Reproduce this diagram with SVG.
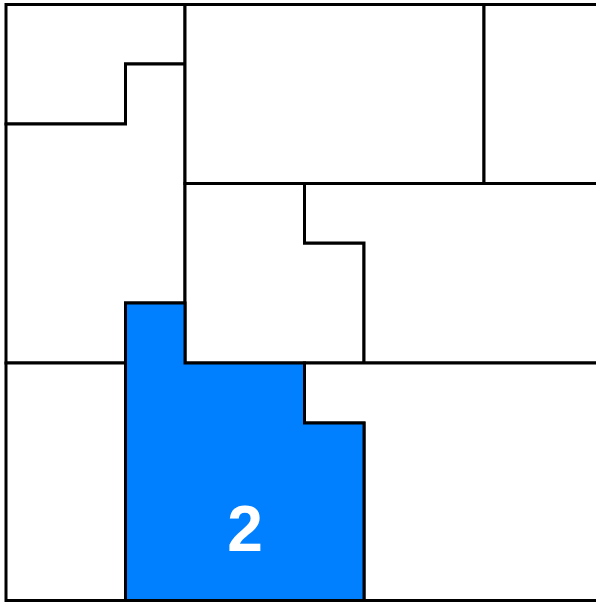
<svg xmlns="http://www.w3.org/2000/svg" width="596" height="602" viewBox="0 0 596 602">
<style>
.r{fill:#ffffff;stroke:#000000;stroke-width:3;stroke-linejoin:miter}
.hl{fill:#0080ff;stroke:#000000;stroke-width:3}
.lbl{font-family:"Liberation Sans",Arial,sans-serif;font-weight:bold;font-size:64px;fill:#ffffff;text-anchor:middle}
</style>
<rect width="596" height="602" fill="#ffffff"/>
<g id="region-a"><polygon class="r" points="6,4.5 185,4.5 185,64 125.5,64 125.5,124 6,124"/></g>
<g id="region-b"><polygon class="r" points="6,124 125.5,124 125.5,64 185,64 185,303 125.5,303 125.5,363 6,363"/></g>
<g id="region-c"><polygon class="r" points="185,4.5 484,4.5 484,183.5 185,183.5"/></g>
<g id="region-d"><polygon class="r" points="484,4.5 599,4.5 599,183.5 484,183.5"/></g>
<g id="region-e"><polygon class="r" points="185,183.5 304.5,183.5 304.5,243 364,243 364,363 185,363"/></g>
<g id="region-f"><polygon class="r" points="304.5,183.5 599,183.5 599,363 364,363 364,243 304.5,243"/></g>
<g id="region-g"><polygon class="r" points="6,363 125.5,363 125.5,600.5 6,600.5"/></g>
<g id="region-h"><polygon class="r" points="304.5,363 599,363 599,600.5 364,600.5 364,423 304.5,423"/></g>
<g id="region-2"><polygon class="hl" points="125.5,303 185,303 185,363 304.5,363 304.5,423 364,423 364,600.5 125.5,600.5"/><text class="lbl" x="245" y="551">2</text></g>
<g id="connectors"/>
</svg>
